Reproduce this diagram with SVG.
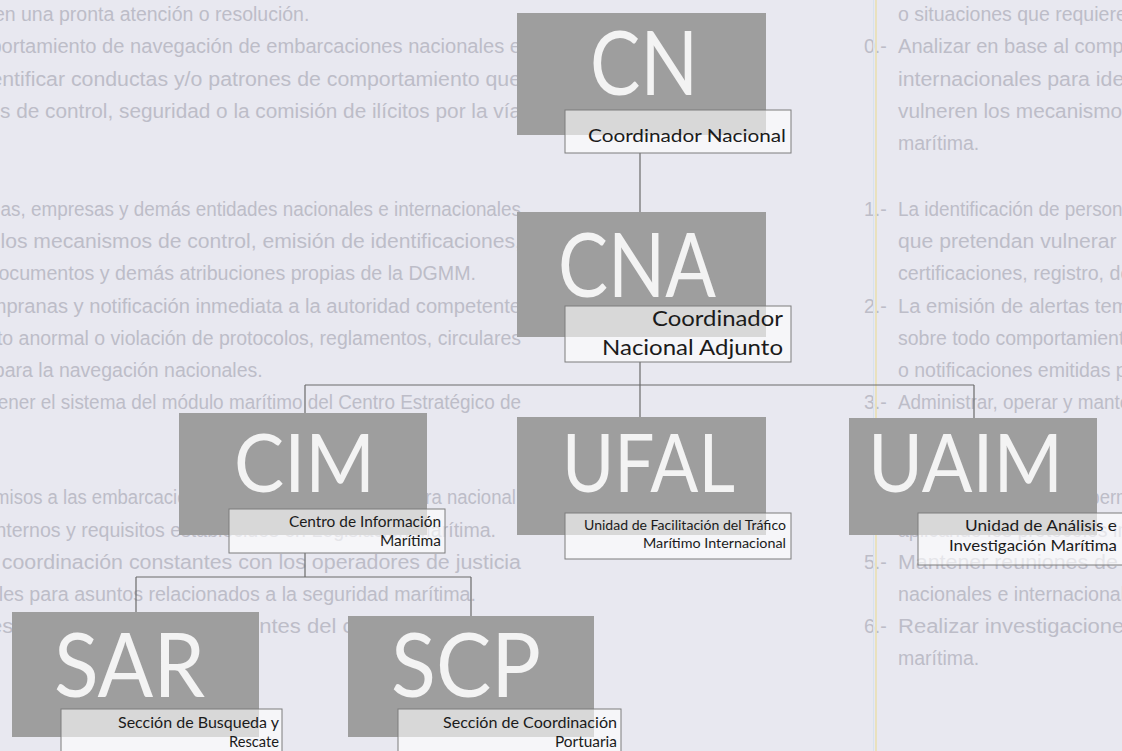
<svg xmlns="http://www.w3.org/2000/svg" xmlns:xlink="http://www.w3.org/1999/xlink" width="1122" height="751" viewBox="0 0 1122 751">
<defs>
<style>
.bg{fill:#e8e8f0}
.pg{font-family:"Liberation Sans",Arial,sans-serif;font-size:19.5px;fill:#bdbdc8}
.box{fill:#9e9e9e}
.big{font-family:Lato,"Open Sans",sans-serif;fill:#f3f3f3;font-weight:400}
.lab{fill:#ffffff;fill-opacity:0.6;stroke:#7c7c7c;stroke-width:1}
.lt{font-family:Lato,"Open Sans",sans-serif;fill:#1b1b1b;text-anchor:end}
.con{fill:none;stroke:#6a6a6a;stroke-width:1.2}
</style>
</defs>
<rect class="bg" x="0" y="0" width="1122" height="751"/>
<g id="page-text">
<g id="page">
<text class="pg" x="898" y="21">o situaciones que requieren una pronta atención o resolución.</text>
<text class="pg" x="864" y="53">0.-</text>
<text class="pg" x="898" y="53" textLength="745" lengthAdjust="spacingAndGlyphs">Analizar en base al comportamiento de navegación de embarcaciones nacionales e</text>
<text class="pg" x="898" y="86" textLength="745" lengthAdjust="spacingAndGlyphs">internacionales para identificar conductas y/o patrones de comportamiento que</text>
<text class="pg" x="898" y="118" textLength="745" lengthAdjust="spacingAndGlyphs">vulneren los mecanismos de control, seguridad o la comisión de ilícitos por la vía</text>
<text class="pg" x="898" y="150">marítima.</text>
<text class="pg" x="864" y="216">1.-</text>
<text class="pg" x="898" y="216" textLength="745" lengthAdjust="spacingAndGlyphs">La identificación de personas, empresas y demás entidades nacionales e internacionales</text>
<text class="pg" x="898" y="248" textLength="745" lengthAdjust="spacingAndGlyphs">que pretendan vulnerar los mecanismos de control, emisión de identificaciones,</text>
<text class="pg" x="898" y="280" textLength="700" lengthAdjust="spacingAndGlyphs">certificaciones, registro, documentos y demás atribuciones propias de la DGMM.</text>
<text class="pg" x="864" y="313">2.-</text>
<text class="pg" x="898" y="313" textLength="745" lengthAdjust="spacingAndGlyphs">La emisión de alertas tempranas y notificación inmediata a la autoridad competente</text>
<text class="pg" x="898" y="345" textLength="745" lengthAdjust="spacingAndGlyphs">sobre todo comportamiento anormal o violación de protocolos, reglamentos, circulares</text>
<text class="pg" x="898" y="377">o notificaciones emitidas para la navegación nacionales.</text>
<text class="pg" x="864" y="409">3.-</text>
<text class="pg" x="898" y="409" textLength="745" lengthAdjust="spacingAndGlyphs">Administrar, operar y mantener el sistema del módulo marítimo del Centro Estratégico de</text>
<text class="pg" x="898" y="504" textLength="745" lengthAdjust="spacingAndGlyphs">Emitir autorizaciones y permisos a las embarcaciones de navegación de bandera nacional,</text>
<text class="pg" x="898" y="537" textLength="720" lengthAdjust="spacingAndGlyphs">aplicando los protocolos internos y requisitos establecidos en Legislación Marítima.</text>
<text class="pg" x="864" y="569">5.-</text>
<text class="pg" x="898" y="569" textLength="745" lengthAdjust="spacingAndGlyphs">Mantener reuniones de coordinación constantes con los operadores de justicia</text>
<text class="pg" x="898" y="601" textLength="700" lengthAdjust="spacingAndGlyphs">nacionales e internacionales para asuntos relacionados a la seguridad marítima.</text>
<text class="pg" x="864" y="633">6.-</text>
<text class="pg" x="898" y="633" textLength="745" lengthAdjust="spacingAndGlyphs">Realizar investigaciones técnicas sobre los incidentes del comercio en la vía</text>
<text class="pg" x="898" y="665">marítima.</text>
</g>
<use xlink:href="#page" href="#page" x="-1122" y="0"/>
<line x1="876" y1="0" x2="876" y2="751" stroke="#eadfae" stroke-width="1.5"/>
<line x1="873.5" y1="0" x2="873.5" y2="751" stroke="#d6e2ee" stroke-width="1"/>
</g>
<g id="connectors">
<path class="con" d="M640,153 V212"/>
<path class="con" d="M640,362 V418"/>
<path class="con" d="M305,385 H974"/>
<path class="con" d="M305,385 V413"/>
<path class="con" d="M974,385 V418"/>
<path class="con" d="M305,553 V577"/>
<path class="con" d="M136,577 H471"/>
<path class="con" d="M136,577 V612"/>
<path class="con" d="M471,577 V616"/>
</g>
<g id="node-CN">
<rect class="box" x="517" y="13" width="249" height="122"/>
<text class="big" x="590" y="95" font-size="90" textLength="108" lengthAdjust="spacingAndGlyphs">CN</text>
<rect class="lab" x="565" y="110" width="226" height="43"/>
<text class="lt" x="786" y="142" font-size="18" textLength="198" lengthAdjust="spacingAndGlyphs">Coordinador Nacional</text>
</g>
<g id="node-CNA">
<rect class="box" x="517" y="212" width="249" height="125"/>
<text class="big" x="558" y="297" font-size="90" textLength="158" lengthAdjust="spacingAndGlyphs">CNA</text>
<rect class="lab" x="565" y="306" width="226" height="56"/>
<text class="lt" x="783" y="326" font-size="22" textLength="131" lengthAdjust="spacingAndGlyphs">Coordinador</text>
<text class="lt" x="783" y="355" font-size="22" textLength="181" lengthAdjust="spacingAndGlyphs">Nacional Adjunto</text>
</g>
<g id="node-CIM">
<rect class="box" x="179" y="413" width="248" height="122"/>
<text class="big" x="234" y="492" font-size="82" textLength="141" lengthAdjust="spacingAndGlyphs">CIM</text>
<rect class="lab" x="229" y="509" width="216" height="44"/>
<text class="lt" x="441" y="527" font-size="15" textLength="152" lengthAdjust="spacingAndGlyphs">Centro de Información</text>
<text class="lt" x="441" y="546" font-size="15" textLength="61" lengthAdjust="spacingAndGlyphs">Marítima</text>
</g>
<g id="node-UFAL">
<rect class="box" x="517" y="417" width="249" height="118"/>
<text class="big" x="562" y="492" font-size="82" textLength="173" lengthAdjust="spacingAndGlyphs">UFAL</text>
<rect class="lab" x="565" y="513" width="226" height="46"/>
<text class="lt" x="786" y="530" font-size="14" textLength="202" lengthAdjust="spacingAndGlyphs">Unidad de Facilitación del Tráfico</text>
<text class="lt" x="786" y="548" font-size="14" textLength="143" lengthAdjust="spacingAndGlyphs">Marítimo Internacional</text>
</g>
<g id="node-UAIM">
<rect class="box" x="849" y="418" width="248" height="117"/>
<text class="big" x="868" y="492" font-size="82" textLength="195" lengthAdjust="spacingAndGlyphs">UAIM</text>
<rect class="lab" x="918" y="513" width="220" height="52"/>
<text class="lt" x="1117" y="531" font-size="16" textLength="152" lengthAdjust="spacingAndGlyphs">Unidad de Análisis e</text>
<text class="lt" x="1117" y="551" font-size="16" textLength="168" lengthAdjust="spacingAndGlyphs">Investigación Marítima</text>
</g>
<g id="node-SAR">
<rect class="box" x="12" y="612" width="247" height="125"/>
<text class="big" x="54" y="697" font-size="90" textLength="151" lengthAdjust="spacingAndGlyphs">SAR</text>
<rect class="lab" x="61" y="709" width="221" height="50"/>
<text class="lt" x="279" y="728" font-size="16" textLength="161" lengthAdjust="spacingAndGlyphs">Sección de Busqueda y</text>
<text class="lt" x="279" y="747" font-size="16" textLength="50" lengthAdjust="spacingAndGlyphs">Rescate</text>
</g>
<g id="node-SCP">
<rect class="box" x="348" y="616" width="246" height="121"/>
<text class="big" x="391" y="697" font-size="90" textLength="150" lengthAdjust="spacingAndGlyphs">SCP</text>
<rect class="lab" x="398" y="709" width="223" height="50"/>
<text class="lt" x="617" y="728" font-size="16" textLength="174" lengthAdjust="spacingAndGlyphs">Sección de Coordinación</text>
<text class="lt" x="617" y="747" font-size="16" textLength="62" lengthAdjust="spacingAndGlyphs">Portuaria</text>
</g>
</svg>
